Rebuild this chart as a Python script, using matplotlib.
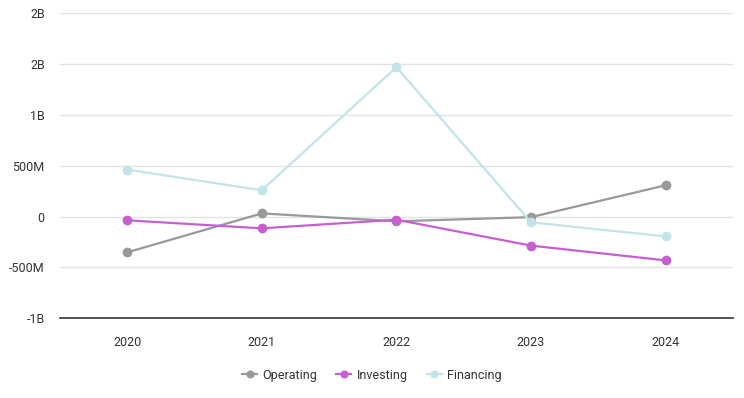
import matplotlib
matplotlib.use("Agg")
import matplotlib.pyplot as plt
from matplotlib.ticker import FixedLocator

plt.rcParams['font.family'] = ['Roboto', 'DejaVu Sans']

years = ["2020", "2021", "2022", "2023", "2024"]
operating = [-351e6, 32e6, -46e6, -5e6, 308e6]
investing = [-36e6, -115e6, -30e6, -285e6, -430e6]
financing = [463e6, 259e6, 1470e6, -56e6, -194e6]
ytick_vals = [-1e9, -5e8, 0, 5e8, 1e9, 1.5e9, 2e9]
ytick_labels = ["-1B", "-500M", "0", "500M", "1B", "2B", "2B"]

series = [
    ("Operating", operating, "#999999"),
    ("Investing", investing, "#c75fd0"),
    ("Financing", financing, "#c3e3e9"),
]

fig = plt.figure(figsize=(7.44, 3.98), dpi=100)
ax = fig.add_axes([0.0806, 0.2002, 0.9044, 0.7664])

x = list(range(len(years)))
for name, vals, color in series:
    ax.plot(x, vals, color=color, lw=1.6, marker='o', ms=6, label=name, zorder=3)

ax.set_xlim(-0.5, len(years) - 0.5)
ax.set_ylim(-1e9, 2e9)
ax.yaxis.set_major_locator(FixedLocator(ytick_vals))
ax.set_yticklabels(ytick_labels)
ax.set_xticks(x)
ax.set_xticklabels(years)

ax.grid(axis='y', color='#e3e3e3', lw=1)
ax.set_axisbelow(True)
for s in ['left', 'right', 'top']:
    ax.spines[s].set_visible(False)
ax.spines['bottom'].set_color('#333333')
ax.spines['bottom'].set_linewidth(1.2)
ax.tick_params(axis='both', length=0, labelsize=9, colors='#333333')
ax.tick_params(axis='x', pad=13)
ax.tick_params(axis='y', pad=11)

leg = fig.legend(loc='center', bbox_to_anchor=(0.5, 0.057), ncol=3, frameon=False,
                 fontsize=9, handlelength=1.2, columnspacing=1.5, handletextpad=0.45,
                 markerscale=0.8)
for t in leg.get_texts():
    t.set_color('#333333')

fig.savefig("out.png", dpi=100)
